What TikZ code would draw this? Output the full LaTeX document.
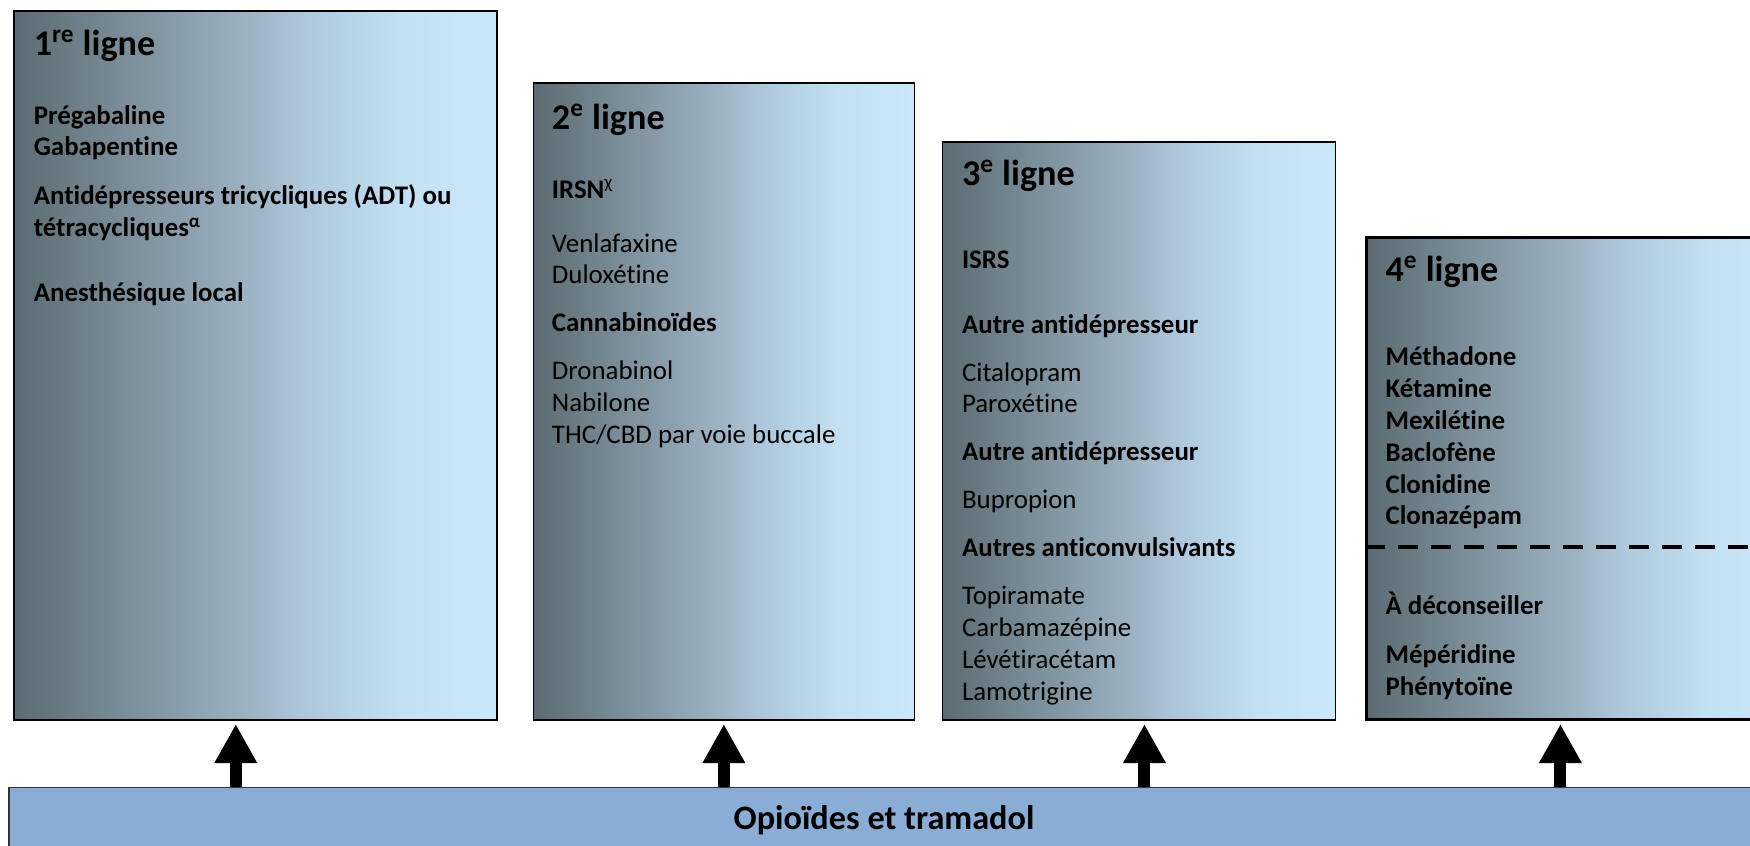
\documentclass[tikz,border=0pt]{standalone}
\usepackage{fontspec}
\setmainfont{Carlito}[Ligatures=NoCommon]
\usepackage{xcolor}
\usepackage{tikz}
\usetikzlibrary{arrows.meta,positioning,calc}

\definecolor{barblue}{RGB}{138,173,214}
\pgfdeclarehorizontalshading{lignegrad}{100bp}{rgb(0bp)=(0.36,0.42,0.45); rgb(25bp)=(0.36,0.42,0.45); rgb(50bp)=(0.62,0.71,0.77); rgb(55bp)=(0.68,0.78,0.86); rgb(65bp)=(0.76,0.88,0.95); rgb(75bp)=(0.79,0.91,0.98); rgb(100bp)=(0.79,0.91,0.98)}
\newcommand{\lignefont}{\fontsize{15.3}{18.1}\selectfont}
\newcommand{\titrefont}{\fontsize{20.6}{24}\selectfont\bfseries}

\begin{document}
\begin{tikzpicture}[
    ligne/.style={draw=black, line width=0.9pt, shade, shading=lignegrad, inner sep=0pt},
    titre/.style={anchor=base west, inner sep=0pt, font=\titrefont},
    liste/.style={anchor=north west, inner sep=0pt, align=left, font=\lignefont},
    barre/.style={draw=black!80, line width=0.6pt, fill=barblue, anchor=north, minimum width=35cm, minimum height=1.32cm, font=\fontsize{19.5}{23}\selectfont\bfseries},
    fleche/.style={line width=0.24cm, -{Triangle[length=0.78cm, width=0.8cm]}, shorten >=0.07cm},
    tirets/.style={line width=0.08cm, dash pattern=on 0.4cm off 0.26cm},
]
    \useasboundingbox (0,0) rectangle (35,-16.92);
    \clip (0,0) rectangle (35,-16.92);

    % Lignes de traitement
    \node[ligne, anchor=north west, minimum width=9.66cm, minimum height=14.18cm] (l1box) at (0.26,-0.2) {};
    \node[ligne, right=0.70cm of l1box.south east, anchor=south west, minimum width=7.62cm, minimum height=12.74cm] (l2box) {};
    \node[ligne, right=0.53cm of l2box.south east, anchor=south west, minimum width=7.86cm, minimum height=11.56cm] (l3box) {};
    \node[ligne, line width=1.3pt, right=0.58cm of l3box.south east, anchor=south west, minimum width=8.5cm, minimum height=9.64cm] (l4box) {};

    % 1re ligne
    \node[titre] (t1) at ($(l1box.north west)+(0.41,-0.92)$) {1\textsuperscript{re} ligne};
    \node[liste, font=\lignefont\bfseries] (b1) at ($(l1box.north west)+(0.41,-1.83)$)
        {\strut Prégabaline\\Gabapentine\\[9.8pt]Antidépresseurs tricycliques (ADT) ou\\tétracycliques\textsuperscript{α}\\[19pt]Anesthésique local};

    % 2e ligne
    \node[titre] (t2) at ($(l2box.north west)+(0.38,-0.96)$) {2\textsuperscript{e} ligne};
    \node[liste] (b2) at ($(l2box.north west)+(0.38,-1.87)$)
        {\strut\textbf{IRSN}\textsuperscript{χ}\\[12.6pt]Venlafaxine\\Duloxétine\\[9.2pt]\textbf{Cannabinoïdes}\\[9.2pt]Dronabinol\\Nabilone\\THC/CBD par voie buccale};

    % 3e ligne
    \node[titre] (t3) at ($(l3box.north west)+(0.4,-0.9)$) {3\textsuperscript{e} ligne};
    \node[liste] (b3) at ($(l3box.north west)+(0.4,-2.09)$)
        {\strut\textbf{ISRS}\\[18.9pt]\textbf{Autre antidépresseur}\\[9.2pt]Citalopram\\Paroxétine\\[9.2pt]\textbf{Autre antidépresseur}\\[9.2pt]Bupropion\\[9.2pt]\textbf{Autres anticonvulsivants}\\[9.2pt]Topiramate\\Carbamazépine\\Lévétiracétam\\Lamotrigine};

    % 4e ligne
    \node[titre] (t4) at ($(l4box.north west)+(0.4,-0.9)$) {4\textsuperscript{e} ligne};
    \node[liste, font=\lignefont\bfseries] (b4) at ($(l4box.north west)+(0.4,-2.14)$)
        {\strut Méthadone\\Kétamine\\Mexilétine\\Baclofène\\Clonidine\\Clonazépam\\[33pt]À déconseiller\\[9.8pt]Mépéridine\\Phénytoïne};
    \draw[tirets] ([yshift=-1.38cm]l4box.west) -- ([yshift=-1.38cm]l4box.east);

    % Base commune
    \node[barre] (bar) at (17.68,-15.74) {Opioïdes et tramadol};

    % Fleches
    \draw[fleche] ([xshift=-0.39cm]l1box.south |- bar.north) -- ([xshift=-0.39cm]l1box.south);
    \draw[fleche] (l2box.south |- bar.north) -- (l2box.south);
    \draw[fleche] ([xshift=0.11cm]l3box.south |- bar.north) -- ([xshift=0.11cm]l3box.south);
    \draw[fleche] ([xshift=-0.37cm]l4box.south |- bar.north) -- ([xshift=-0.37cm]l4box.south);
\end{tikzpicture}
\end{document}
